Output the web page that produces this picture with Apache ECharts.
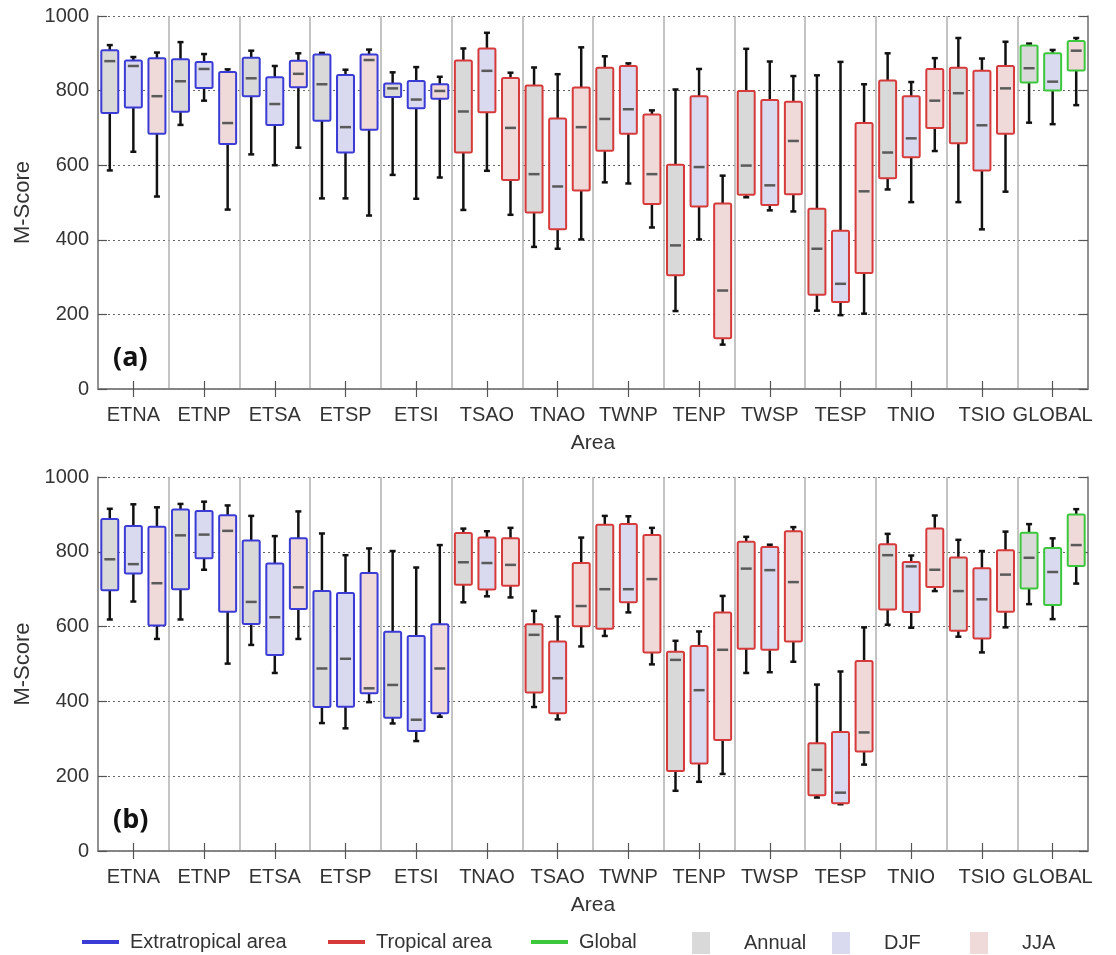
<!DOCTYPE html>
<html>
<head>
<meta charset="utf-8">
<script src="https://cdn.jsdelivr.net/npm/echarts@6/dist/echarts.min.js"></script>
<style>
  html, body { margin: 0; padding: 0; background: #fff; }
  #chart { width: 1116px; height: 955px; }
</style>
</head>
<body>
<div id="chart"></div>
<script>
// areas per panel (0 = extratropical, 1 = tropical, 2 = global)
const areasA = ['ETNA', 'ETNP', 'ETSA', 'ETSP', 'ETSI', 'TSAO', 'TNAO', 'TWNP', 'TENP', 'TWSP', 'TESP', 'TNIO', 'TSIO', 'GLOBAL'];
const areasB = ['ETNA', 'ETNP', 'ETSA', 'ETSP', 'ETSI', 'TNAO', 'TSAO', 'TWNP', 'TENP', 'TWSP', 'TESP', 'TNIO', 'TSIO', 'GLOBAL'];
const typesA = [0, 0, 0, 0, 0, 1, 1, 1, 1, 1, 1, 1, 1, 2];
const typesB = [0, 0, 0, 0, 0, 1, 1, 1, 1, 1, 1, 1, 1, 2];
const yTicks = [0, 200, 400, 600, 800, 1000];

// [min, q1, median, q3, max]
const annualA = [
  [586, 740, 879, 908, 922], [708, 743, 825, 884, 930], [629, 785, 833, 888, 907],
  [511, 719, 817, 897, 901], [574, 783, 806, 819, 849], [480, 634, 744, 881, 913],
  [381, 473, 576, 814, 862], [554, 639, 724, 861, 892], [209, 305, 385, 601, 803],
  [514, 521, 599, 799, 912], [210, 253, 376, 483, 841], [535, 565, 634, 827, 900],
  [501, 659, 793, 861, 941], [714, 822, 860, 921, 926]
];
const djfA = [
  [636, 755, 866, 881, 890], [773, 807, 858, 877, 898], [600, 708, 764, 836, 866],
  [511, 634, 702, 842, 856], [510, 753, 776, 826, 863], [585, 742, 853, 913, 955],
  [376, 428, 543, 725, 844], [551, 684, 750, 866, 873], [401, 489, 595, 785, 858],
  [479, 493, 546, 775, 878], [198, 233, 282, 424, 877], [501, 621, 672, 785, 823],
  [428, 586, 707, 853, 886], [710, 800, 824, 900, 909]
];
const jjaA = [
  [516, 684, 785, 887, 902], [481, 657, 713, 850, 857], [647, 809, 845, 880, 900],
  [465, 695, 882, 897, 910], [567, 778, 799, 817, 837], [467, 560, 700, 834, 848],
  [401, 532, 702, 808, 916], [433, 496, 576, 736, 747], [119, 136, 264, 497, 572],
  [476, 522, 665, 770, 839], [202, 311, 530, 713, 817], [638, 700, 773, 858, 887],
  [529, 684, 806, 866, 931], [761, 854, 907, 933, 941]
];
const annualB = [
  [619, 697, 780, 888, 915], [619, 700, 844, 913, 928], [551, 607, 666, 830, 896],
  [342, 385, 488, 695, 849], [341, 356, 444, 586, 802], [665, 712, 772, 850, 862],
  [385, 424, 578, 606, 642], [575, 594, 700, 872, 896], [161, 214, 511, 533, 562],
  [476, 541, 755, 827, 840], [143, 149, 217, 288, 445], [605, 646, 791, 820, 848],
  [573, 589, 695, 785, 832], [660, 702, 784, 851, 874]
];
const djfB = [
  [667, 742, 767, 869, 927], [752, 783, 846, 909, 934], [476, 524, 625, 769, 842],
  [328, 386, 514, 690, 791], [294, 321, 351, 575, 758], [681, 699, 770, 838, 855],
  [352, 368, 462, 560, 627], [638, 665, 700, 874, 895], [185, 234, 430, 548, 587],
  [478, 538, 751, 813, 819], [125, 128, 156, 318, 480], [597, 639, 761, 773, 790],
  [531, 568, 673, 756, 802], [620, 658, 746, 810, 836]
];
const jjaB = [
  [567, 603, 716, 867, 919], [501, 640, 856, 898, 924], [567, 647, 705, 836, 908],
  [398, 422, 435, 743, 809], [359, 368, 488, 606, 818], [678, 709, 765, 836, 864],
  [547, 601, 655, 770, 838], [499, 531, 727, 845, 864], [206, 297, 538, 638, 682],
  [506, 560, 719, 855, 866], [231, 266, 317, 508, 598], [695, 706, 752, 862, 897],
  [598, 640, 739, 804, 854], [715, 762, 818, 900, 914]
];

const typeNames = ['Extratropical area', 'Tropical area', 'Global'];
const seasonNames = ['Annual', 'DJF', 'JJA'];
const typeColors = ['#3b3bd6', '#d63a3a', '#3cc83c'];
const seasonFills = ['#d9d9d9', '#d9d9f0', '#f0d9d9'];

const FONT = 'Liberation Sans, Arial, sans-serif';

function buildRows(types, seasons) {
  const rows = [];
  seasons.forEach(function (list, s) {
    list.forEach(function (v, i) {
      rows.push([i, s].concat(v).concat([types[i]]));
    });
  });
  return rows;
}

function renderBox(params, api) {
  const cat = api.value(0);
  const season = api.value(1);
  const band = api.size([1, 0])[0];
  const sub = band / 3;
  const cx = api.coord([cat, 0])[0] + (season - 1) * sub;
  const w = sub * 0.72;
  const y = [2, 3, 4, 5, 6].map(function (d) { return api.coord([cat, api.value(d)])[1]; });
  const stroke = typeColors[api.value(7)];
  const black = { stroke: '#111', lineWidth: 2.5 };
  const cap = 3;
  return {
    type: 'group',
    children: [
      { type: 'line', shape: { x1: cx, y1: y[4], x2: cx, y2: y[3] }, style: black },
      { type: 'line', shape: { x1: cx, y1: y[0], x2: cx, y2: y[1] }, style: black },
      { type: 'line', shape: { x1: cx - cap, y1: y[4], x2: cx + cap, y2: y[4] }, style: black },
      { type: 'line', shape: { x1: cx - cap, y1: y[0], x2: cx + cap, y2: y[0] }, style: black },
      {
        type: 'rect',
        shape: { x: cx - w / 2, y: y[3], width: w, height: y[1] - y[3], r: 1.5 },
        style: { fill: seasonFills[season], stroke: stroke, lineWidth: 2 }
      },
      {
        type: 'line',
        shape: { x1: cx - w / 2 + 3, y1: y[2], x2: cx + w / 2 - 3, y2: y[2] },
        style: { stroke: '#5a5a5a', lineWidth: 2.5 }
      }
    ]
  };
}

function gridAxes(areas, gridIndex) {
  const axisLine = { show: true, lineStyle: { color: '#808080', width: 1.5 } };
  const tick = { show: true, inside: true, length: 8, alignWithLabel: true, lineStyle: { color: '#555', width: 1.2 } };
  const x = [
    {
      type: 'category', gridIndex: gridIndex, data: areas, position: 'bottom',
      axisLine: axisLine, axisTick: tick,
      axisLabel: { interval: 0, margin: 16, fontSize: 20, color: '#333', fontFamily: FONT },
      splitLine: { show: true, interval: 0, lineStyle: { color: '#b0b0b0', width: 1.5 } },
      name: 'Area', nameLocation: 'middle', nameGap: 44,
      nameTextStyle: { fontSize: 21, color: '#333', fontFamily: FONT }
    },
    {
      type: 'category', gridIndex: gridIndex, data: areas, position: 'top',
      axisLine: axisLine, axisTick: tick, axisLabel: { show: false }, splitLine: { show: false }
    }
  ];
  const ytick = { show: true, inside: true, length: 9, lineStyle: { color: '#555', width: 1.2 } };
  const y = [
    {
      type: 'value', gridIndex: gridIndex, min: yTicks[0], max: yTicks[yTicks.length - 1], interval: 200, position: 'left',
      axisLine: axisLine, axisTick: ytick,
      axisLabel: { margin: 9, fontSize: 20, color: '#333', fontFamily: FONT, formatter: function (v) { return String(v); } },
      splitLine: { show: true, lineStyle: { color: '#666', type: [2, 3], width: 1 } },
      name: 'M-Score', nameLocation: 'middle', nameGap: 62,
      nameTextStyle: { fontSize: 22, color: '#333', fontFamily: FONT }
    },
    {
      type: 'value', gridIndex: gridIndex, min: yTicks[0], max: yTicks[yTicks.length - 1], interval: 200, position: 'right',
      axisLine: axisLine, axisTick: ytick, axisLabel: { show: false }, splitLine: { show: false }
    }
  ];
  return { x: x, y: y };
}

const axA = gridAxes(areasA, 0);
const axB = gridAxes(areasB, 1);

const series = [
  {
    name: 'panelA', type: 'custom', xAxisIndex: 0, yAxisIndex: 0,
    renderItem: renderBox, encode: { x: 0, y: 4 },
    data: buildRows(typesA, [annualA, djfA, jjaA])
  },
  {
    name: 'panelB', type: 'custom', xAxisIndex: 2, yAxisIndex: 2,
    renderItem: renderBox, encode: { x: 0, y: 4 },
    data: buildRows(typesB, [annualB, djfB, jjaB])
  }
];
// legend-only series
typeNames.forEach(function (n, i) {
  series.push({ name: n, type: 'line', xAxisIndex: 0, yAxisIndex: 0, data: [], color: typeColors[i] });
});
seasonNames.forEach(function (n, i) {
  series.push({ name: n, type: 'bar', xAxisIndex: 0, yAxisIndex: 0, data: [], color: seasonFills[i] });
});

const legendLeft = [77, 323, 526, 687, 827, 965];
const legends = typeNames.concat(seasonNames).map(function (n, i) {
  const isLine = i < 3;
  return {
    data: [n], left: legendLeft[i], top: 927, selectedMode: false,
    icon: 'rect',
    itemWidth: isLine ? 37 : 18, itemHeight: isLine ? 4 : 22,
    textStyle: { fontSize: 20, color: '#333', fontFamily: FONT, padding: [0, 0, 0, isLine ? 6 : 29] }
  };
});

const option = {
  backgroundColor: '#fff',
  animation: false,
  title: [
    { text: '(a)', left: 108, top: 340, textStyle: { fontSize: 27, fontWeight: 'bold', color: '#111', fontFamily: 'Open Sans, sans-serif' } },
    { text: '(b)', left: 108, top: 802, textStyle: { fontSize: 27, fontWeight: 'bold', color: '#111', fontFamily: 'Open Sans, sans-serif' } }
  ],
  grid: [
    { left: 98, right: 28, top: 16, height: 373 },
    { left: 98, right: 28, top: 477, height: 374 }
  ],
  xAxis: axA.x.concat(axB.x),
  yAxis: axA.y.concat(axB.y),
  legend: legends,
  series: series
};

const chart = echarts.init(document.getElementById('chart'), null, { renderer: 'canvas' });
chart.setOption(option);
</script>
</body>
</html>
